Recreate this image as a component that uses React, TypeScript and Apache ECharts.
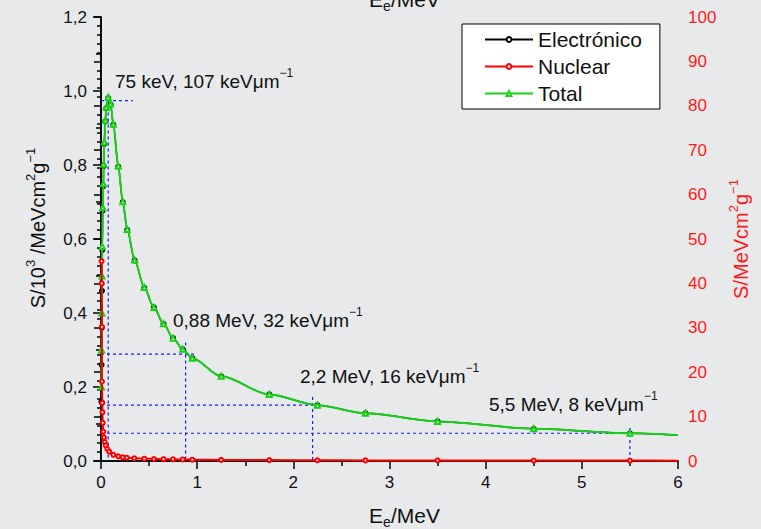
import React, { useEffect, useRef } from 'react';
import * as echarts from 'echarts';

// Total stopping power (left axis, S / 10^3 MeV cm^2 g^-1)
const energyTotal = [0.004, 0.006, 0.008, 0.01, 0.013, 0.018, 0.024, 0.028, 0.034, 0.045, 0.055, 0.075, 0.1, 0.128, 0.18, 0.226, 0.273, 0.35, 0.45, 0.55, 0.65, 0.75, 0.85, 0.95, 1.25, 1.75, 2.25, 2.75, 3.5, 4.5, 5.5, 6.0];
const stoppingTotal = [0.2, 0.3, 0.4, 0.5, 0.58, 0.685, 0.749, 0.802, 0.862, 0.921, 0.956, 0.983, 0.965, 0.91, 0.797, 0.701, 0.626, 0.543, 0.469, 0.415, 0.371, 0.332, 0.302, 0.278, 0.229, 0.18, 0.151, 0.129, 0.107, 0.087, 0.075, 0.07];
// Electronic stopping power (left axis), practically under the total curve
const stoppingElec = [0.16, 0.26, 0.36, 0.46, 0.57, 0.677, 0.743, 0.797, 0.857, 0.918, 0.953, 0.981, 0.963, 0.909, 0.796, 0.7, 0.625, 0.542, 0.468, 0.415, 0.371, 0.332, 0.302, 0.278, 0.229, 0.18, 0.151, 0.129, 0.107, 0.087, 0.075, 0.07];
// Nuclear stopping power (right axis, S / MeV cm^2 g^-1)
const energyNuclear = [0.006, 0.008, 0.009, 0.01, 0.0135, 0.015, 0.018, 0.024, 0.031, 0.038, 0.049, 0.066, 0.086, 0.128, 0.18, 0.226, 0.267, 0.346, 0.45, 0.55, 0.65, 0.75, 0.85, 0.95, 1.25, 1.75, 2.25, 2.75, 3.5, 4.5, 5.5, 6.0];
const stoppingNuclear = [45, 40, 30.2, 17.9, 13.1, 11.0, 8.6, 6.6, 5.3, 4.3, 3.5, 2.7, 2.1, 1.4, 1.06, 0.83, 0.74, 0.6, 0.52, 0.45, 0.42, 0.38, 0.35, 0.3, 0.25, 0.2, 0.16, 0.14, 0.12, 0.1, 0.09, 0.08];

// Guide lines (dashed blue) for the annotated points
const guideEnergy = [0.075, 0.88, 2.2, 5.5];
const guideStopping = [0.974, 0.289, 0.151, 0.075];
const guideHorizontalEnd = [0.33, 0.99, 2.2, 5.5];
const guideVerticalTop = [0.974, 0.32, 0.173, 0.089];
const annotationMain = ['75 keV, 107 keVμm', '0,88 MeV, 32 keVμm', '2,2 MeV, 16 keVμm', '5,5 MeV, 8 keVμm'];

const FONT = 'Liberation Sans, Arial, sans-serif';

function pairs(xs: number[], ys: number[]) {
  return xs.map((x, i) => {
    if (i === xs.length - 1) return { value: [x, ys[i]], symbol: 'none' };
    return { value: [x, ys[i]] };
  });
}

export default function App() {
  const ref = useRef<HTMLDivElement>(null);
  useEffect(() => {
    if (!ref.current) return;
    const chart = echarts.init(ref.current, undefined, { renderer: 'svg' });

    const guideSeries: any[] = [];
    guideEnergy.forEach((e, i) => {
      const ls = { color: '#1a1aff', width: 1.2, type: [3, 3] as any };
      guideSeries.push({
        type: 'line', data: [[0, guideStopping[i]], [guideHorizontalEnd[i], guideStopping[i]]],
        symbol: 'none', lineStyle: ls, silent: true, z: 1,
      });
      guideSeries.push({
        type: 'line', data: [[e, guideVerticalTop[i]], [e, 0]],
        symbol: 'none', lineStyle: ls, silent: true, z: 1,
      });
    });

    const annPos = [
      [115, 81], [173, 320], [300, 376], [489, 404],
    ];
    const graphic = annotationMain.map((t, i) => ({
      type: 'text',
      left: annPos[i][0],
      top: annPos[i][1] - 14,
      style: {
        text: `{m|${t}}{s|−1}`,
        rich: {
          m: { fontSize: 19, fontFamily: FONT, fill: '#111', lineHeight: 28, verticalAlign: 'middle' },
          s: { fontSize: 12, fontFamily: FONT, fill: '#111', verticalAlign: 'top', lineHeight: 14 },
        },
      },
      z: 10,
    }));

    const axisLine = { show: true, lineStyle: { color: '#000', width: 1.5 } };
    const tickStyle = { color: '#000', width: 1.5 };

    chart.setOption({
      animation: false,
      backgroundColor: '#e7e9ea',
      textStyle: { fontFamily: FONT },
      grid: { left: 101, right: 83, top: 17, bottom: 68, containLabel: false, outerBoundsMode: 'none' },
      legend: {
        data: ['Electrónico', 'Nuclear', 'Total'],
        orient: 'vertical',
        left: 462,
        top: 24,
        backgroundColor: '#fff',
        borderColor: '#000',
        borderWidth: 1,
        borderRadius: 0,
        padding: [5, 18, 5, 22],
        itemWidth: 48,
        itemHeight: 6,
        itemGap: 6,
        textStyle: { fontSize: 21, color: '#111', fontFamily: FONT, lineHeight: 20, padding: [0, 0, 0, 0] },
      },
      xAxis: [
        {
          type: 'value', min: 0, max: 6, interval: 1, position: 'bottom',
          axisLine, splitLine: { show: false },
          axisTick: { show: true, inside: false, length: 8, lineStyle: tickStyle },
          minorTick: { show: true, splitNumber: 2, length: 5, lineStyle: tickStyle },
          axisLabel: { fontSize: 17, color: '#111', margin: 13, fontFamily: FONT },
          name: 'E{sub|e}/MeV', nameLocation: 'middle', nameGap: 40,
          nameTextStyle: {
            fontSize: 21, color: '#111', fontFamily: FONT, lineHeight: 28, padding: [0, 0, 0, 30],
            rich: { sub: { fontSize: 14, verticalAlign: 'bottom', lineHeight: 14, fontFamily: FONT, color: '#111' } },
          },
        },
        {
          type: 'value', min: 0, max: 6, position: 'top',
          axisLine, splitLine: { show: false }, axisTick: { show: false }, axisLabel: { show: false },
          name: 'E{sub|e}/MeV', nameLocation: 'middle', nameGap: 4,
          nameTextStyle: {
            fontSize: 21, color: '#111', fontFamily: FONT, lineHeight: 28, padding: [0, 0, 0, 30],
            rich: { sub: { fontSize: 14, verticalAlign: 'bottom', lineHeight: 14, fontFamily: FONT, color: '#111' } },
          },
        },
      ],
      yAxis: [
        {
          type: 'value', min: 0, max: 1.2, interval: 0.2, position: 'left',
          axisLine, splitLine: { show: false },
          axisTick: { show: true, inside: false, length: 8, lineStyle: tickStyle },
          minorTick: { show: true, splitNumber: 2, length: 5, lineStyle: tickStyle },
          axisLabel: {
            fontSize: 17, color: '#111', margin: 14, fontFamily: FONT,
            formatter: (v: number) => v.toFixed(1).replace('.', ','),
          },
          name: 'S/10{sup|3} /MeVcm{sup|2}g{sup|−1}', nameLocation: 'middle', nameGap: 46, nameRotate: 90,
          nameTextStyle: {
            fontSize: 20, color: '#111', fontFamily: FONT, lineHeight: 28, padding: [0, 0, 0, 22],
            rich: { sup: { fontSize: 13, verticalAlign: 'top', lineHeight: 14, fontFamily: FONT, color: '#111' } },
          },
        },
        {
          type: 'value', min: 0, max: 100, interval: 10, position: 'right',
          axisLine, splitLine: { show: false },
          axisTick: { show: true, inside: true, length: 7, lineStyle: tickStyle },
          minorTick: { show: true, splitNumber: 5, length: 4, lineStyle: tickStyle },
          axisLabel: { fontSize: 17, color: '#ff1a1a', margin: 10, fontFamily: FONT },
          name: 'S/MeVcm{sup|2}g{sup|−1}', nameLocation: 'middle', nameGap: 43, nameRotate: 90,
          nameTextStyle: {
            fontSize: 20, color: '#ff1a1a', fontFamily: FONT, lineHeight: 28,
            rich: { sup: { fontSize: 13, verticalAlign: 'top', lineHeight: 14, fontFamily: FONT, color: '#ff1a1a' } },
          },
        },
      ],
      series: [
        ...guideSeries,
        {
          name: 'Electrónico', type: 'line', xAxisIndex: 0, yAxisIndex: 0,
          data: pairs(energyTotal, stoppingElec),
          symbol: 'emptyCircle', symbolSize: 4, smooth: 0.3, smoothMonotone: 'x',
          lineStyle: { color: '#000', width: 1.5 }, itemStyle: { color: '#000' }, z: 2,
        },
        {
          name: 'Total', type: 'line', xAxisIndex: 0, yAxisIndex: 0,
          data: pairs(energyTotal, stoppingTotal),
          symbol: 'emptyTriangle', symbolSize: 5, smooth: 0.3, smoothMonotone: 'x',
          lineStyle: { color: '#19d119', width: 2 }, itemStyle: { color: '#19d119', borderWidth: 1.3 }, z: 3,
        },
        {
          name: 'Nuclear', type: 'line', xAxisIndex: 0, yAxisIndex: 1,
          data: pairs(energyNuclear, stoppingNuclear),
          symbol: 'emptyCircle', symbolSize: 4, smooth: 0.3, smoothMonotone: 'x',
          lineStyle: { color: '#ff0000', width: 2 }, itemStyle: { color: '#ff0000', borderWidth: 1.2 }, z: 4,
        },
      ],
      graphic,
    });
    return () => chart.dispose();
  }, []);
  return <div ref={ref} style={{ position: 'fixed', left: 0, top: 0, width: 761, height: 529 }} />;
}
